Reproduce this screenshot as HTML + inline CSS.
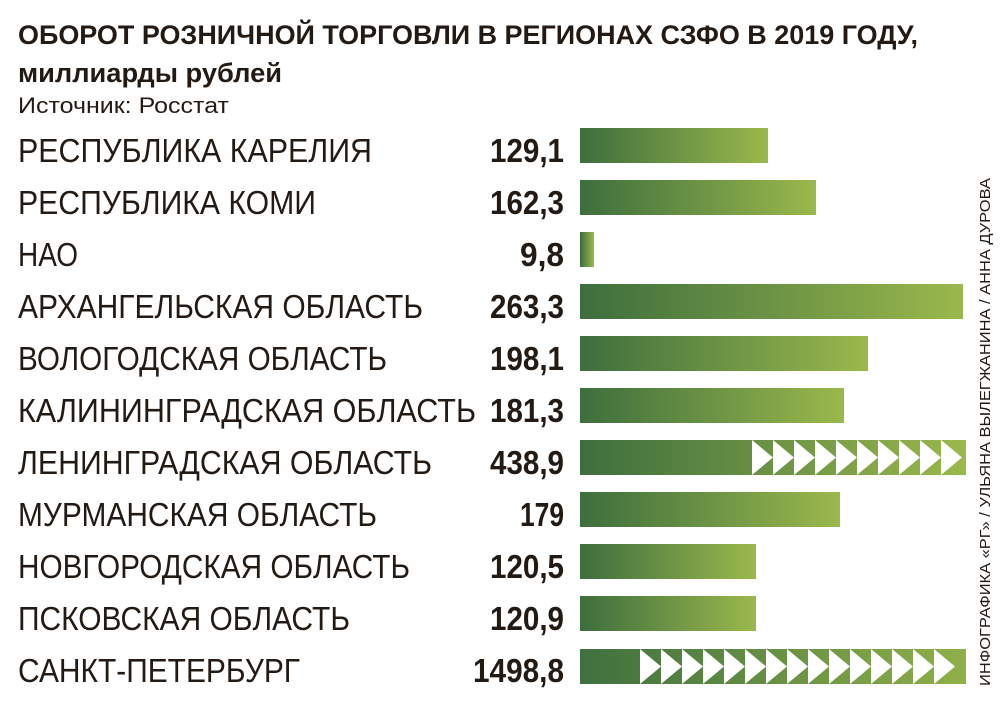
<!DOCTYPE html>
<html><head><meta charset="utf-8"><style>
body{margin:0;background:#fff}
svg{display:block}
text{font-family:"Liberation Sans",sans-serif;fill:#231a14}
.l{font-size:33px}
.v{font-size:33px;font-weight:bold}
</style></head><body>
<svg width="1000" height="710" xmlns="http://www.w3.org/2000/svg">
<defs>
<linearGradient id="g" x1="0" x2="1" y1="0" y2="0"><stop offset="0" stop-color="#3d6e3d"/><stop offset="1" stop-color="#9bb84c"/></linearGradient>
<linearGradient id="gl" gradientUnits="userSpaceOnUse" x1="580" x2="966" y1="0" y2="0"><stop offset="0" stop-color="#3d6e3d"/><stop offset="1" stop-color="#9bb84c"/></linearGradient>
<linearGradient id="gs" gradientUnits="userSpaceOnUse" x1="580" x2="966" y1="0" y2="0"><stop offset="0" stop-color="#3f703f"/><stop offset="1" stop-color="#8fb048"/></linearGradient>
</defs>
<text x="18" y="44" style="font-size:27px;font-weight:bold" textLength="900" lengthAdjust="spacingAndGlyphs">ОБОРОТ РОЗНИЧНОЙ ТОРГОВЛИ В РЕГИОНАХ СЗФО В 2019 ГОДУ,</text>
<text x="18" y="82" style="font-size:27px;font-weight:bold" textLength="264" lengthAdjust="spacingAndGlyphs">миллиарды рублей</text>
<text x="18" y="113" style="font-size:22px" textLength="211" lengthAdjust="spacingAndGlyphs">Источник: Росстат</text>

<g>
<text class="l" x="18" y="162" textLength="354" lengthAdjust="spacingAndGlyphs">РЕСПУБЛИКА КАРЕЛИЯ</text>
<text class="l" x="18" y="214" textLength="298" lengthAdjust="spacingAndGlyphs">РЕСПУБЛИКА КОМИ</text>
<text class="l" x="18" y="266" textLength="60" lengthAdjust="spacingAndGlyphs">НАО</text>
<text class="l" x="18" y="318" textLength="405" lengthAdjust="spacingAndGlyphs">АРХАНГЕЛЬСКАЯ ОБЛАСТЬ</text>
<text class="l" x="18" y="370" textLength="369" lengthAdjust="spacingAndGlyphs">ВОЛОГОДСКАЯ ОБЛАСТЬ</text>
<text class="l" x="18" y="422" textLength="458" lengthAdjust="spacingAndGlyphs">КАЛИНИНГРАДСКАЯ ОБЛАСТЬ</text>
<text class="l" x="18" y="474" textLength="414" lengthAdjust="spacingAndGlyphs">ЛЕНИНГРАДСКАЯ ОБЛАСТЬ</text>
<text class="l" x="18" y="526" textLength="359" lengthAdjust="spacingAndGlyphs">МУРМАНСКАЯ ОБЛАСТЬ</text>
<text class="l" x="18" y="578" textLength="392" lengthAdjust="spacingAndGlyphs">НОВГОРОДСКАЯ ОБЛАСТЬ</text>
<text class="l" x="18" y="630" textLength="332" lengthAdjust="spacingAndGlyphs">ПСКОВСКАЯ ОБЛАСТЬ</text>
<text class="l" x="18" y="682" textLength="282" lengthAdjust="spacingAndGlyphs">САНКТ-ПЕТЕРБУРГ</text>
</g>
<g text-anchor="end">
<text class="v" x="564" y="162" textLength="74" lengthAdjust="spacingAndGlyphs">129,1</text>
<text class="v" x="564" y="214" textLength="74" lengthAdjust="spacingAndGlyphs">162,3</text>
<text class="v" x="564" y="266" textLength="44" lengthAdjust="spacingAndGlyphs">9,8</text>
<text class="v" x="564" y="318" textLength="74" lengthAdjust="spacingAndGlyphs">263,3</text>
<text class="v" x="564" y="370" textLength="74" lengthAdjust="spacingAndGlyphs">198,1</text>
<text class="v" x="564" y="422" textLength="74" lengthAdjust="spacingAndGlyphs">181,3</text>
<text class="v" x="564" y="474" textLength="74" lengthAdjust="spacingAndGlyphs">438,9</text>
<text class="v" x="564" y="526" textLength="44" lengthAdjust="spacingAndGlyphs">179</text>
<text class="v" x="564" y="578" textLength="74" lengthAdjust="spacingAndGlyphs">120,5</text>
<text class="v" x="564" y="630" textLength="74" lengthAdjust="spacingAndGlyphs">120,9</text>
<text class="v" x="564" y="682" textLength="91" lengthAdjust="spacingAndGlyphs">1498,8</text>
</g>

<rect x="580" y="128" width="188" height="35" fill="url(#g)"/>
<rect x="580" y="180" width="236" height="35" fill="url(#g)"/>
<rect x="580" y="232" width="14" height="35" fill="url(#g)"/>
<rect x="580" y="284" width="383" height="35" fill="url(#g)"/>
<rect x="580" y="336" width="288" height="35" fill="url(#g)"/>
<rect x="580" y="388" width="264" height="35" fill="url(#g)"/>
<rect x="580" y="440" width="386" height="35" fill="url(#gl)"/>
<rect x="580" y="492" width="260" height="35" fill="url(#g)"/>
<rect x="580" y="544" width="176" height="35" fill="url(#g)"/>
<rect x="580" y="596" width="176" height="35" fill="url(#g)"/>
<rect x="580" y="649" width="386" height="35" fill="url(#gs)"/>
<g fill="#fff">
<path d="M752 440L773 457.5L752 475ZM773 440L794 457.5L773 475ZM794 440L815 457.5L794 475ZM815 440L836 457.5L815 475ZM836 440L857 457.5L836 475ZM857 440L878 457.5L857 475ZM878 440L899 457.5L878 475ZM899 440L920 457.5L899 475ZM920 440L941 457.5L920 475ZM941 440L962 457.5L941 475Z"/>
<path d="M640 649L661 666.5L640 684ZM661 649L682 666.5L661 684ZM682 649L703 666.5L682 684ZM703 649L724 666.5L703 684ZM724 649L745 666.5L724 684ZM745 649L766 666.5L745 684ZM766 649L787 666.5L766 684ZM787 649L808 666.5L787 684ZM808 649L829 666.5L808 684ZM829 649L850 666.5L829 684ZM850 649L871 666.5L850 684ZM871 649L892 666.5L871 684ZM892 649L913 666.5L892 684ZM913 649L934 666.5L913 684ZM934 649L955 666.5L934 684Z"/>
</g>
<text transform="translate(990,686) rotate(-90)" style="font-size:15px" textLength="508" lengthAdjust="spacingAndGlyphs">ИНФОГРАФИКА «РГ» / УЛЬЯНА ВЫЛЕГЖАНИНА / АННА ДУРОВА</text>
</svg>
</body></html>
